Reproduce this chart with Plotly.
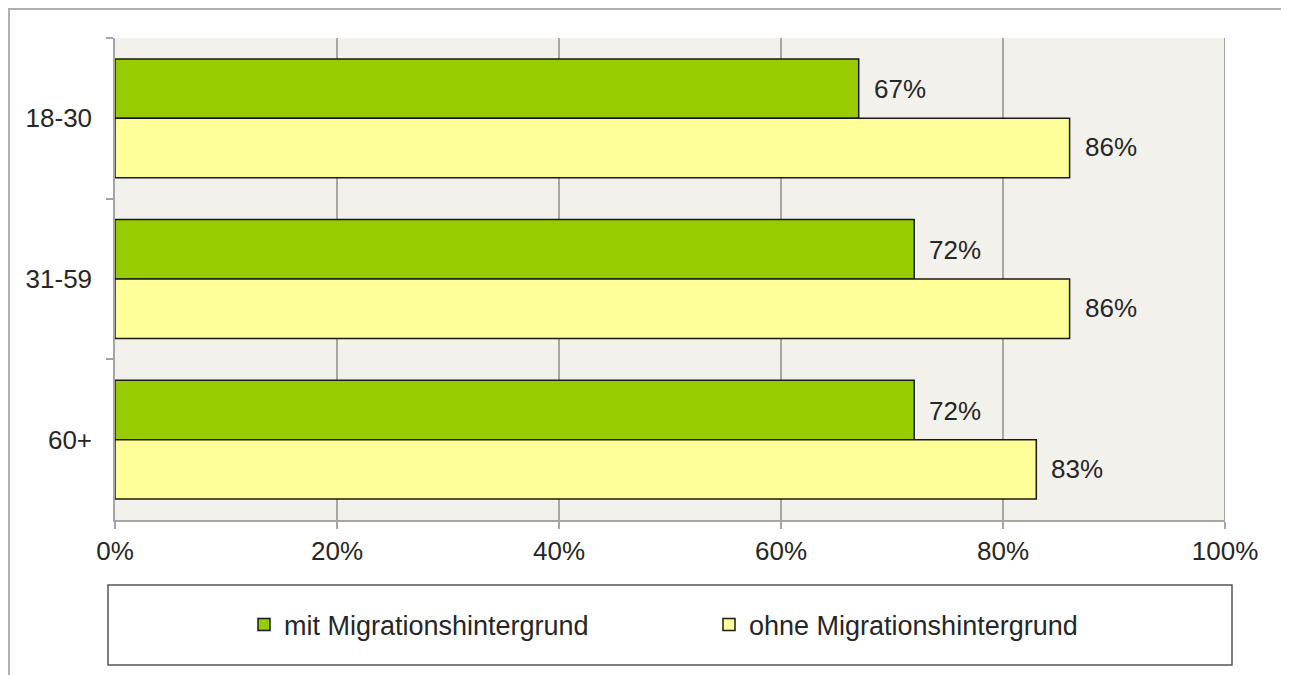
import plotly.graph_objects as go

categories = ["18-30", "31-59", "60+"]
mit_values = [67, 72, 72]
ohne_values = [86, 86, 83]
series_names = ["mit Migrationshintergrund", "ohne Migrationshintergrund"]
x_tick_vals = [0, 20, 40, 60, 80, 100]
x_tick_text = ["0%", "20%", "40%", "60%", "80%", "100%"]

# page is rendered with an 8px body margin; compensate
OFF = 8
PW, PH = 1289, 675
W, H = PW - OFF, PH - OFF
PL, PR, PT, PB = 115, 1225, 38, 520  # plot area in page px
L, T = PL - OFF, PT - OFF
R = W - (PR - OFF)
B = H - (PB - OFF)
pw, ph = PR - PL, PB - PT

def px_x(p):
    return (p - PL) / pw

def px_y(p):
    return (PB - p) / ph

FONT = "Liberation Sans, Arial, sans-serif"
FS = 26
TXT = "#262626"
GRID = "#A6A6A6"

fig = go.Figure()
fig.add_trace(go.Bar(y=categories, x=mit_values, name=series_names[0], orientation="h",
                     marker=dict(color="#99CC00", line=dict(color="#1a1a1a", width=1.5))))
fig.add_trace(go.Bar(y=categories, x=ohne_values, name=series_names[1], orientation="h",
                     marker=dict(color="#FFFF99", line=dict(color="#1a1a1a", width=1.5))))

annotations = []
for cat, v in zip(categories, mit_values):
    annotations.append(dict(x=v, y=cat, xref="x", yref="y", text=f"{v}%", showarrow=False,
                            xanchor="left", xshift=13, yshift=29,
                            font=dict(size=FS, color=TXT, family=FONT)))
for cat, v in zip(categories, ohne_values):
    annotations.append(dict(x=v, y=cat, xref="x", yref="y", text=f"{v}%", showarrow=False,
                            xanchor="left", xshift=13, yshift=-29,
                            font=dict(size=FS, color=TXT, family=FONT)))

shapes = [
    dict(type="rect", xref="paper", yref="paper",
         x0=px_x(9), x1=px_x(1286), y0=px_y(680), y1=px_y(9),
         line=dict(color="#B0B0B0", width=2), fillcolor="rgba(0,0,0,0)", layer="below"),
    dict(type="rect", xref="paper", yref="paper",
         x0=px_x(108), x1=px_x(1232), y0=px_y(665), y1=px_y(585),
         line=dict(color="#555555", width=1.5), fillcolor="rgba(0,0,0,0)"),
    # gridline at the 100% edge
    dict(type="line", xref="x", yref="paper",
         x0=x_tick_vals[-1], x1=x_tick_vals[-1], y0=0, y1=1,
         line=dict(color=GRID, width=2), layer="above"),
]

fig.update_layout(
    width=W, height=H,
    margin=dict(l=L, r=R, t=T, b=B),
    paper_bgcolor="white",
    plot_bgcolor="#F2F1EC",
    barmode="group",
    bargap=0.26,
    bargroupgap=0,
    font=dict(family=FONT, size=FS, color=TXT),
    showlegend=True,
    legend=dict(orientation="h", x=px_x(244), xanchor="left", y=px_y(625), yanchor="middle",
                font=dict(size=27, color=TXT, family=FONT), entrywidth=420,
                bgcolor="rgba(0,0,0,0)", traceorder="normal"),
    annotations=annotations,
    shapes=shapes,
)
fig.update_xaxes(range=[0, 100], tickvals=x_tick_vals, ticktext=x_tick_text,
                 showgrid=True, gridcolor=GRID, gridwidth=1.5,
                 showline=True, linecolor=GRID, linewidth=1.5,
                 ticks="outside", ticklen=7, tickcolor=GRID, tickwidth=1.5,
                 zeroline=False, tickfont=dict(size=FS, color=TXT), fixedrange=True)
fig.update_yaxes(autorange="reversed", showgrid=False,
                 showline=True, linecolor=GRID, linewidth=1.5,
                 ticks="outside", ticklen=7, tickcolor=GRID, tickwidth=1.5,
                 tickson="boundaries", ticklabelstandoff=16,
                 tickfont=dict(size=FS, color=TXT), fixedrange=True)

fig.write_html("out.html")
